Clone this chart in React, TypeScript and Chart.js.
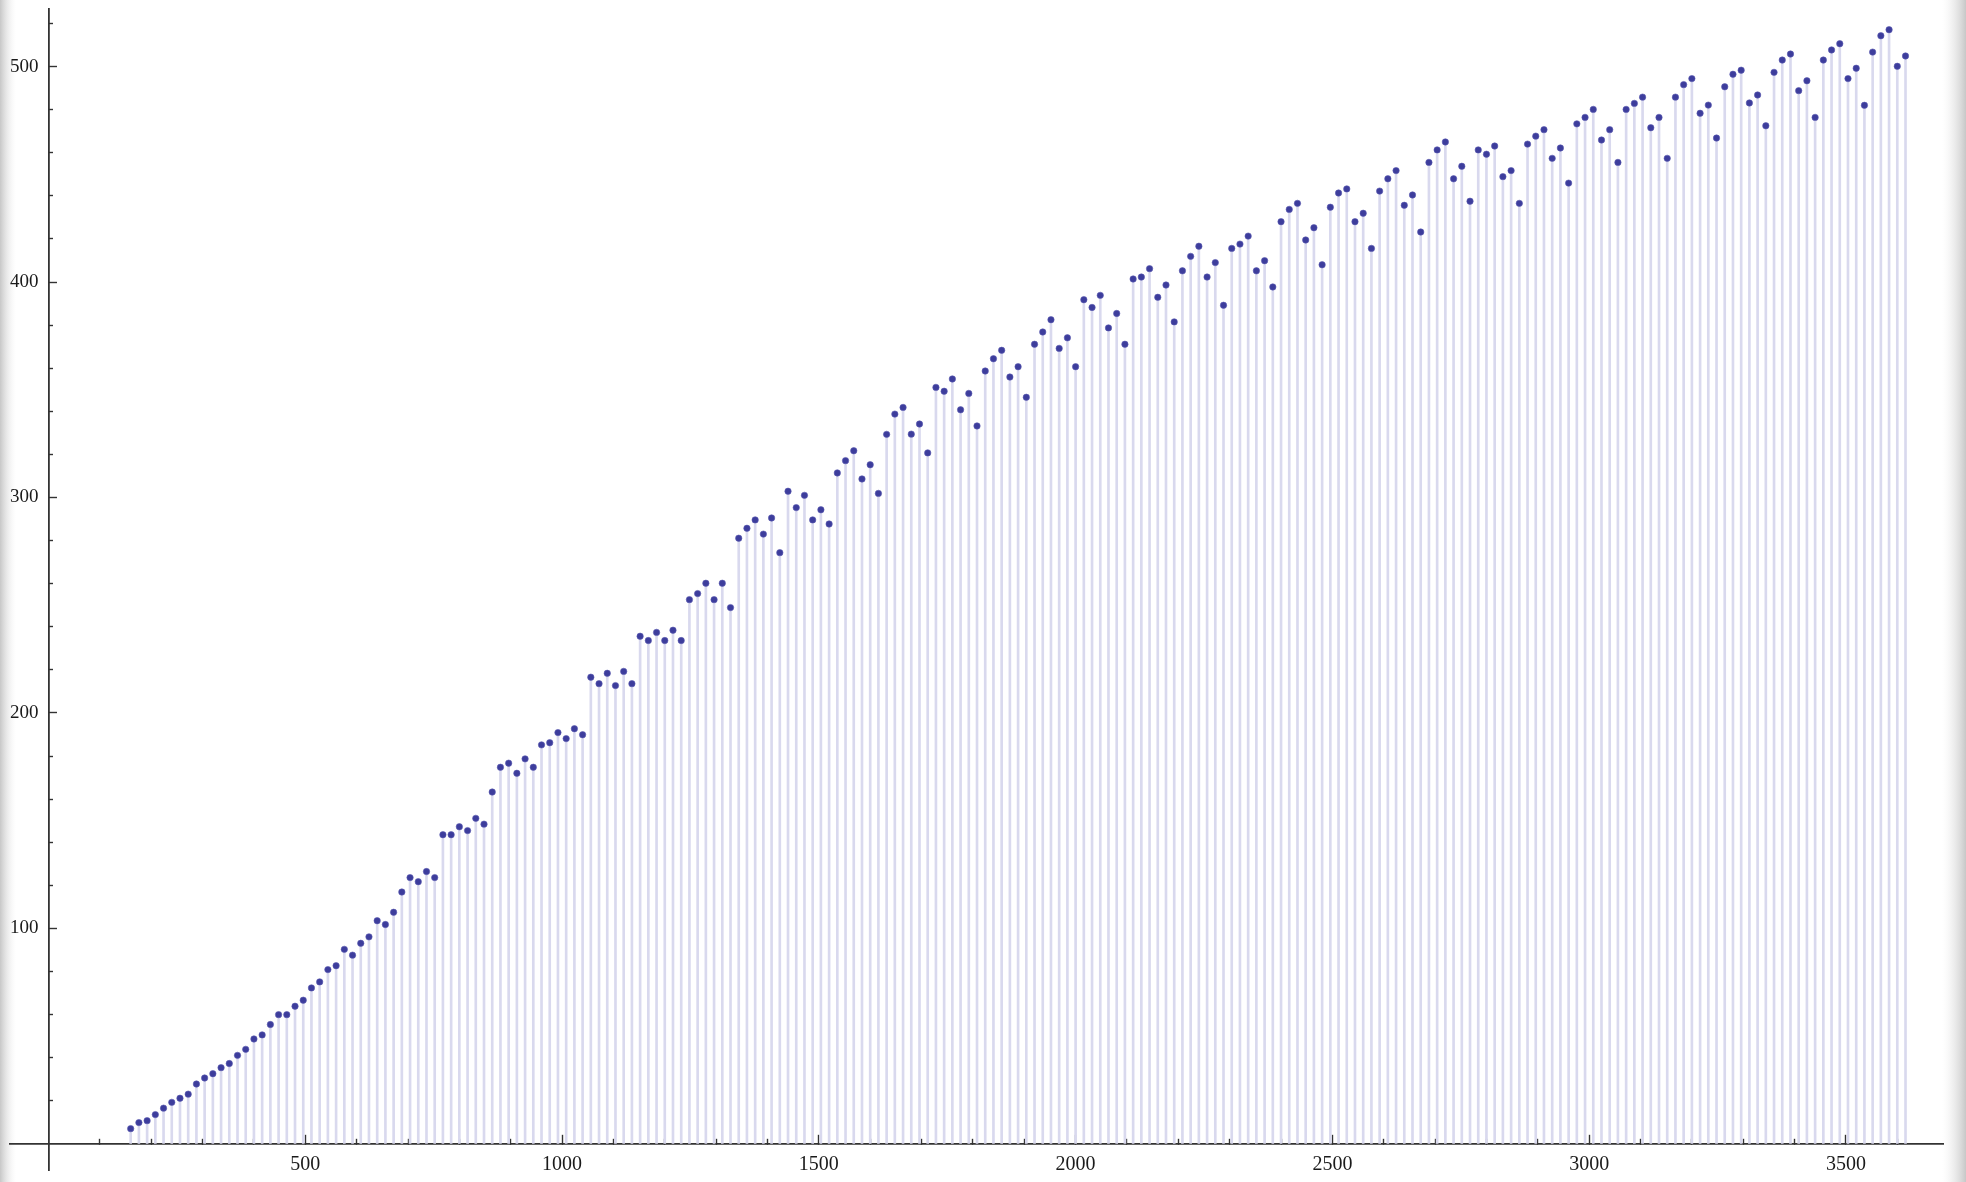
import React, { useEffect, useRef } from 'react';
import { Chart, registerables } from 'chart.js';

Chart.register(...registerables);

// x positions of the discrete points
const xValues = [
  160, 176, 192, 208, 224, 240, 256, 272, 288, 304,
  320, 336, 352, 368, 384, 400, 416, 432, 448, 464,
  480, 496, 512, 528, 544, 560, 576, 592, 608, 624,
  640, 656, 672, 688, 704, 720, 736, 752, 768, 784,
  800, 816, 832, 848, 864, 880, 896, 912, 928, 944,
  960, 976, 992, 1008, 1024, 1040, 1056, 1072, 1088, 1104,
  1120, 1136, 1152, 1168, 1184, 1200, 1216, 1232, 1248, 1264,
  1280, 1296, 1312, 1328, 1344, 1360, 1376, 1392, 1408, 1424,
  1440, 1456, 1472, 1488, 1504, 1520, 1536, 1552, 1568, 1584,
  1600, 1616, 1632, 1648, 1664, 1680, 1696, 1712, 1728, 1744,
  1760, 1776, 1792, 1808, 1824, 1840, 1856, 1872, 1888, 1904,
  1920, 1936, 1952, 1968, 1984, 2000, 2016, 2032, 2048, 2064,
  2080, 2096, 2112, 2128, 2144, 2160, 2176, 2192, 2208, 2224,
  2240, 2256, 2272, 2288, 2304, 2320, 2336, 2352, 2368, 2384,
  2400, 2416, 2432, 2448, 2464, 2480, 2496, 2512, 2528, 2544,
  2560, 2576, 2592, 2608, 2624, 2640, 2656, 2672, 2688, 2704,
  2720, 2736, 2752, 2768, 2784, 2800, 2816, 2832, 2848, 2864,
  2880, 2896, 2912, 2928, 2944, 2960, 2976, 2992, 3008, 3024,
  3040, 3056, 3072, 3088, 3104, 3120, 3136, 3152, 3168, 3184,
  3200, 3216, 3232, 3248, 3264, 3280, 3296, 3312, 3328, 3344,
  3360, 3376, 3392, 3408, 3424, 3440, 3456, 3472, 3488, 3504,
  3520, 3536, 3552, 3568, 3584, 3600, 3616,
];

// y values of the points
const yValues = [
  7.1, 9.9, 10.8, 13.6, 16.6, 19.3, 21.2, 23.1, 27.8, 30.6,
  32.6, 35.4, 37.3, 41.1, 43.9, 48.7, 50.6, 55.4, 60.0, 60.0,
  63.9, 66.7, 72.4, 75.2, 80.9, 82.7, 90.3, 87.6, 93.1, 96.1,
  103.6, 101.8, 107.5, 116.9, 123.6, 121.7, 126.4, 123.6, 143.5, 143.5,
  147.2, 145.4, 151.1, 148.4, 163.3, 174.8, 176.7, 172.0, 178.7, 174.8,
  185.2, 186.2, 190.9, 188.1, 192.7, 189.9, 216.6, 213.6, 218.4, 212.7,
  219.3, 213.6, 235.6, 233.6, 237.4, 233.6, 238.4, 233.6, 252.6, 255.4,
  260.2, 252.6, 260.2, 248.9, 281.1, 285.7, 289.6, 283.0, 290.5, 274.4,
  302.9, 295.3, 301.0, 289.6, 294.3, 287.7, 311.4, 317.1, 321.7, 308.6,
  315.2, 301.9, 329.3, 338.7, 341.8, 329.4, 334.1, 320.7, 351.1, 349.3,
  355.0, 340.7, 348.3, 333.2, 358.7, 364.4, 368.3, 355.9, 360.7, 346.5,
  371.1, 376.8, 382.5, 369.2, 374.1, 360.7, 391.8, 388.2, 393.8, 378.7,
  385.4, 371.1, 401.4, 402.3, 406.2, 392.9, 398.6, 381.5, 405.2, 411.9,
  416.6, 402.3, 409.0, 389.2, 415.6, 417.6, 421.3, 405.2, 409.9, 397.7,
  428.0, 433.7, 436.5, 419.5, 425.2, 408.0, 434.7, 441.3, 443.2, 428.0,
  431.9, 415.6, 442.2, 447.9, 451.7, 435.6, 440.4, 423.2, 455.5, 461.3,
  465.0, 447.9, 453.7, 437.5, 461.3, 459.3, 463.1, 448.9, 451.7, 436.5,
  464.0, 467.7, 470.7, 457.4, 462.2, 445.9, 473.4, 476.4, 480.1, 465.9,
  470.7, 455.5, 480.1, 482.9, 485.8, 471.6, 476.4, 457.4, 485.8, 491.6,
  494.4, 478.3, 482.1, 466.8, 490.6, 496.4, 498.3, 483.1, 486.8, 472.5,
  497.3, 503.0, 505.8, 488.8, 493.4, 476.4, 503.0, 507.7, 510.6, 494.4,
  499.2, 482.0, 506.7, 514.3, 517.1, 500.1, 504.9,
];

const xTickLabels = [500, 1000, 1500, 2000, 2500, 3000, 3500];
const yTickLabels = [100, 200, 300, 400, 500];

const X_MIN = -75;
const X_MAX = 3689;
const Y_MIN = -12.1;
const Y_MAX = 526.7;

const AXIS_COLOR = '#333333';
const TICK_FONT = 'Liberation Serif';

const backgroundPlugin = {
  id: 'pageBackground',
  beforeDraw(chart: any) {
    const { ctx, width, height } = chart;
    ctx.save();
    ctx.fillStyle = '#ffffff';
    ctx.fillRect(0, 0, width, height);
    const gl = ctx.createLinearGradient(0, 0, 16, 0);
    gl.addColorStop(0, 'rgba(185,185,185,0.8)');
    gl.addColorStop(1, 'rgba(235,235,235,0)');
    ctx.fillStyle = gl;
    ctx.fillRect(0, 0, 16, height);
    const gr = ctx.createLinearGradient(width - 24, 0, width, 0);
    gr.addColorStop(0, 'rgba(235,235,235,0)');
    gr.addColorStop(1, 'rgba(185,185,185,0.8)');
    ctx.fillStyle = gr;
    ctx.fillRect(width - 24, 0, 24, height);
    ctx.restore();
  },
};

const isOn = (list: number[], v: number) => list.includes(Math.round(v));

const zeroFit = (s: any) => {
  if (s.isHorizontal()) s.height = 0;
  else s.width = 0;
  s.paddingLeft = 0;
  s.paddingRight = 0;
  s.paddingTop = 0;
  s.paddingBottom = 0;
};

export default function App() {
  const canvasRef = useRef<HTMLCanvasElement | null>(null);

  useEffect(() => {
    document.body.style.margin = '0';
    const canvas = canvasRef.current;
    if (!canvas) return;

    const stems = xValues.map((x, i) => ({ x, y: yValues[i] }));
    const points = xValues.map((x, i) => ({ x, y: yValues[i] }));

    const chart = new Chart(canvas, {
      type: 'bar',
      data: {
        datasets: [
          {
            type: 'scatter',
            data: points,
            xAxisID: 'x',
            yAxisID: 'y',
            pointRadius: 3.2,
            pointBackgroundColor: '#3d3d9c',
            pointBorderColor: '#5a5ab0',
            pointBorderWidth: 0.6,
            showLine: false,
            order: 1,
          } as any,
          {
            type: 'bar',
            data: stems,
            xAxisID: 'x',
            yAxisID: 'y',
            backgroundColor: '#d9d9ee',
            borderWidth: 0,
            barThickness: 2,
            order: 2,
          } as any,
        ],
      },
      options: {
        animation: false,
        responsive: false,
        maintainAspectRatio: false,
        layout: { padding: { left: 10, right: 23, top: 9, bottom: 12 } },
        plugins: {
          legend: { display: false },
          tooltip: { enabled: false },
          title: { display: false },
        },
        scales: {
          x: {
            type: 'linear',
            min: X_MIN,
            max: X_MAX,
            offset: false,
            position: { y: 0 } as any,
            afterFit: zeroFit,
            grid: {
              drawOnChartArea: false,
              drawTicks: true,
              tickLength: -10,
              offset: false,
              tickWidth: 1.4,
              tickColor: (c: any) => (c.tick && c.tick.value > 0 ? AXIS_COLOR : 'rgba(0,0,0,0)'),
              tickBorderDash: (c: any) =>
                c.tick && isOn(xTickLabels, c.tick.value) ? [] : [6, 100],
            },
            border: { display: true, color: AXIS_COLOR, width: 1.8 },
            ticks: {
              stepSize: 100,
              autoSkip: false,
              includeBounds: false,
              maxRotation: 0,
              padding: 19,
              color: '#1a1a1a',
              font: { family: TICK_FONT, size: 20 },
              callback: (v: any) => (isOn(xTickLabels, Number(v)) ? String(Math.round(Number(v))) : ''),
            },
          } as any,
          y: {
            type: 'linear',
            min: Y_MIN,
            max: Y_MAX,
            position: { x: 0 } as any,
            afterFit: zeroFit,
            grid: {
              drawOnChartArea: false,
              drawTicks: true,
              tickLength: -9,
              tickWidth: 1.4,
              tickColor: (c: any) => (c.tick && c.tick.value > 0 ? AXIS_COLOR : 'rgba(0,0,0,0)'),
              tickBorderDash: (c: any) =>
                c.tick && isOn(yTickLabels, c.tick.value) ? [] : [5, 100],
            },
            border: { display: true, color: AXIS_COLOR, width: 1.8 },
            ticks: {
              stepSize: 20,
              autoSkip: false,
              includeBounds: false,
              display: false,
            },
          } as any,
          yLabels: {
            type: 'linear',
            axis: 'y',
            min: Y_MIN,
            max: Y_MAX,
            position: 'left',
            afterFit: zeroFit,
            grid: { display: false, drawTicks: false },
            border: { display: false },
            ticks: {
              stepSize: 100,
              autoSkip: false,
              includeBounds: false,
              mirror: true,
              padding: 0,
              color: '#1a1a1a',
              font: { family: TICK_FONT, size: 19 },
              callback: (v: any) => (isOn(yTickLabels, Number(v)) ? String(Math.round(Number(v))) : ''),
            },
          } as any,
        },
      },
      plugins: [backgroundPlugin],
    });

    return () => {
      chart.destroy();
    };
  }, []);

  return (
    <div style={{ width: 1966, height: 1182, position: 'relative' }}>
      <canvas ref={canvasRef} width={1966} height={1182} style={{ display: 'block', width: 1966, height: 1182 }} />
    </div>
  );
}
